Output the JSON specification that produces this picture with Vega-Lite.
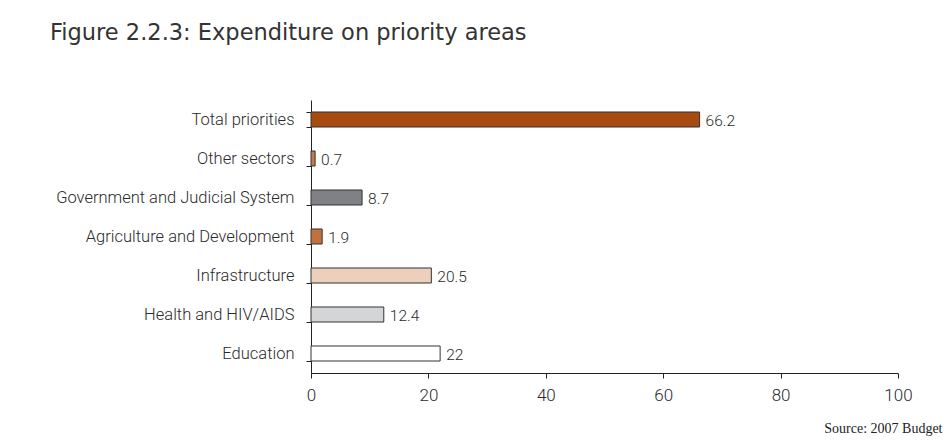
{
  "$schema": "https://vega.github.io/schema/vega-lite/v6.json",
  "width": 587,
  "height": 273,
  "autosize": "none",
  "padding": {"left": 311, "top": 100, "right": 52, "bottom": 71},
  "background": "white",
  "title": {
    "text": "Figure 2.2.3: Expenditure on priority areas",
    "anchor": "start",
    "frame": "group",
    "dx": -261,
    "offset": 48,
    "font": "DejaVu Sans",
    "fontSize": 22.5,
    "fontWeight": "normal",
    "color": "#333333"
  },
  "config": {"view": {"stroke": null}},
  "data": {
    "values": [
      {"area": "Total priorities", "value": 66.2},
      {"area": "Other sectors", "value": 0.7},
      {"area": "Government and Judicial System", "value": 8.7},
      {"area": "Agriculture and Development", "value": 1.9},
      {"area": "Infrastructure", "value": 20.5},
      {"area": "Health and HIV/AIDS", "value": 12.4},
      {"area": "Education", "value": 22}
    ]
  },
  "encoding": {
    "y": {
      "field": "area",
      "type": "nominal",
      "sort": ["Total priorities", "Other sectors", "Government and Judicial System", "Agriculture and Development", "Infrastructure", "Health and HIV/AIDS", "Education"],
      "scale": {"paddingInner": 0.615, "paddingOuter": 0.3075},
      "axis": {
        "title": null,
        "tickBand": "extent",
        "domainColor": "#222222",
        "tickColor": "#222222",
        "tickSize": 5,
        "labelPadding": 12,
        "labelFont": "Roboto",
        "labelFontWeight": 300,
        "labelFontSize": 16.5,
        "labelColor": "#2a2a2a",
        "labelLimit": 300
      }
    },
    "x": {
      "field": "value",
      "type": "quantitative",
      "scale": {"domain": [0, 100], "nice": false},
      "axis": {
        "values": [0, 20, 40, 60, 80, 100],
        "grid": false,
        "labelFlush": false,
        "domainColor": "#222222",
        "tickColor": "#222222",
        "tickSize": 5,
        "labelPadding": 9,
        "labelFont": "Roboto",
        "labelFontWeight": 300,
        "labelFontSize": 17,
        "labelColor": "#2a2a2a",
        "title": "Source: 2007 Budget",
        "titleFont": "Liberation Serif",
        "titleFontSize": 14,
        "titleFontWeight": "normal",
        "titleColor": "#222222",
        "titleAlign": "right",
        "titleAnchor": null,
        "titleX": 631,
        "titleY": 59,
        "titleBaseline": "alphabetic"
      }
    }
  },
  "layer": [
    {
      "mark": {"type": "bar", "stroke": "#333333", "strokeWidth": 1},
      "encoding": {
        "color": {
          "field": "area",
          "type": "nominal",
          "scale": {
            "domain": ["Total priorities", "Other sectors", "Government and Judicial System", "Agriculture and Development", "Infrastructure", "Health and HIV/AIDS", "Education"],
            "range": ["#A84B11", "#C77A4B", "#808184", "#C2703E", "#EDD0BC", "#D4D5D6", "#FFFFFF"]
          },
          "legend": null
        }
      }
    },
    {
      "mark": {"type": "text", "align": "left", "baseline": "middle", "dx": 6, "dy": 1, "font": "Roboto", "fontWeight": 300, "fontSize": 15.5, "color": "#2a2a2a"},
      "encoding": {"text": {"field": "value", "type": "quantitative"}}
    }
  ]
}
